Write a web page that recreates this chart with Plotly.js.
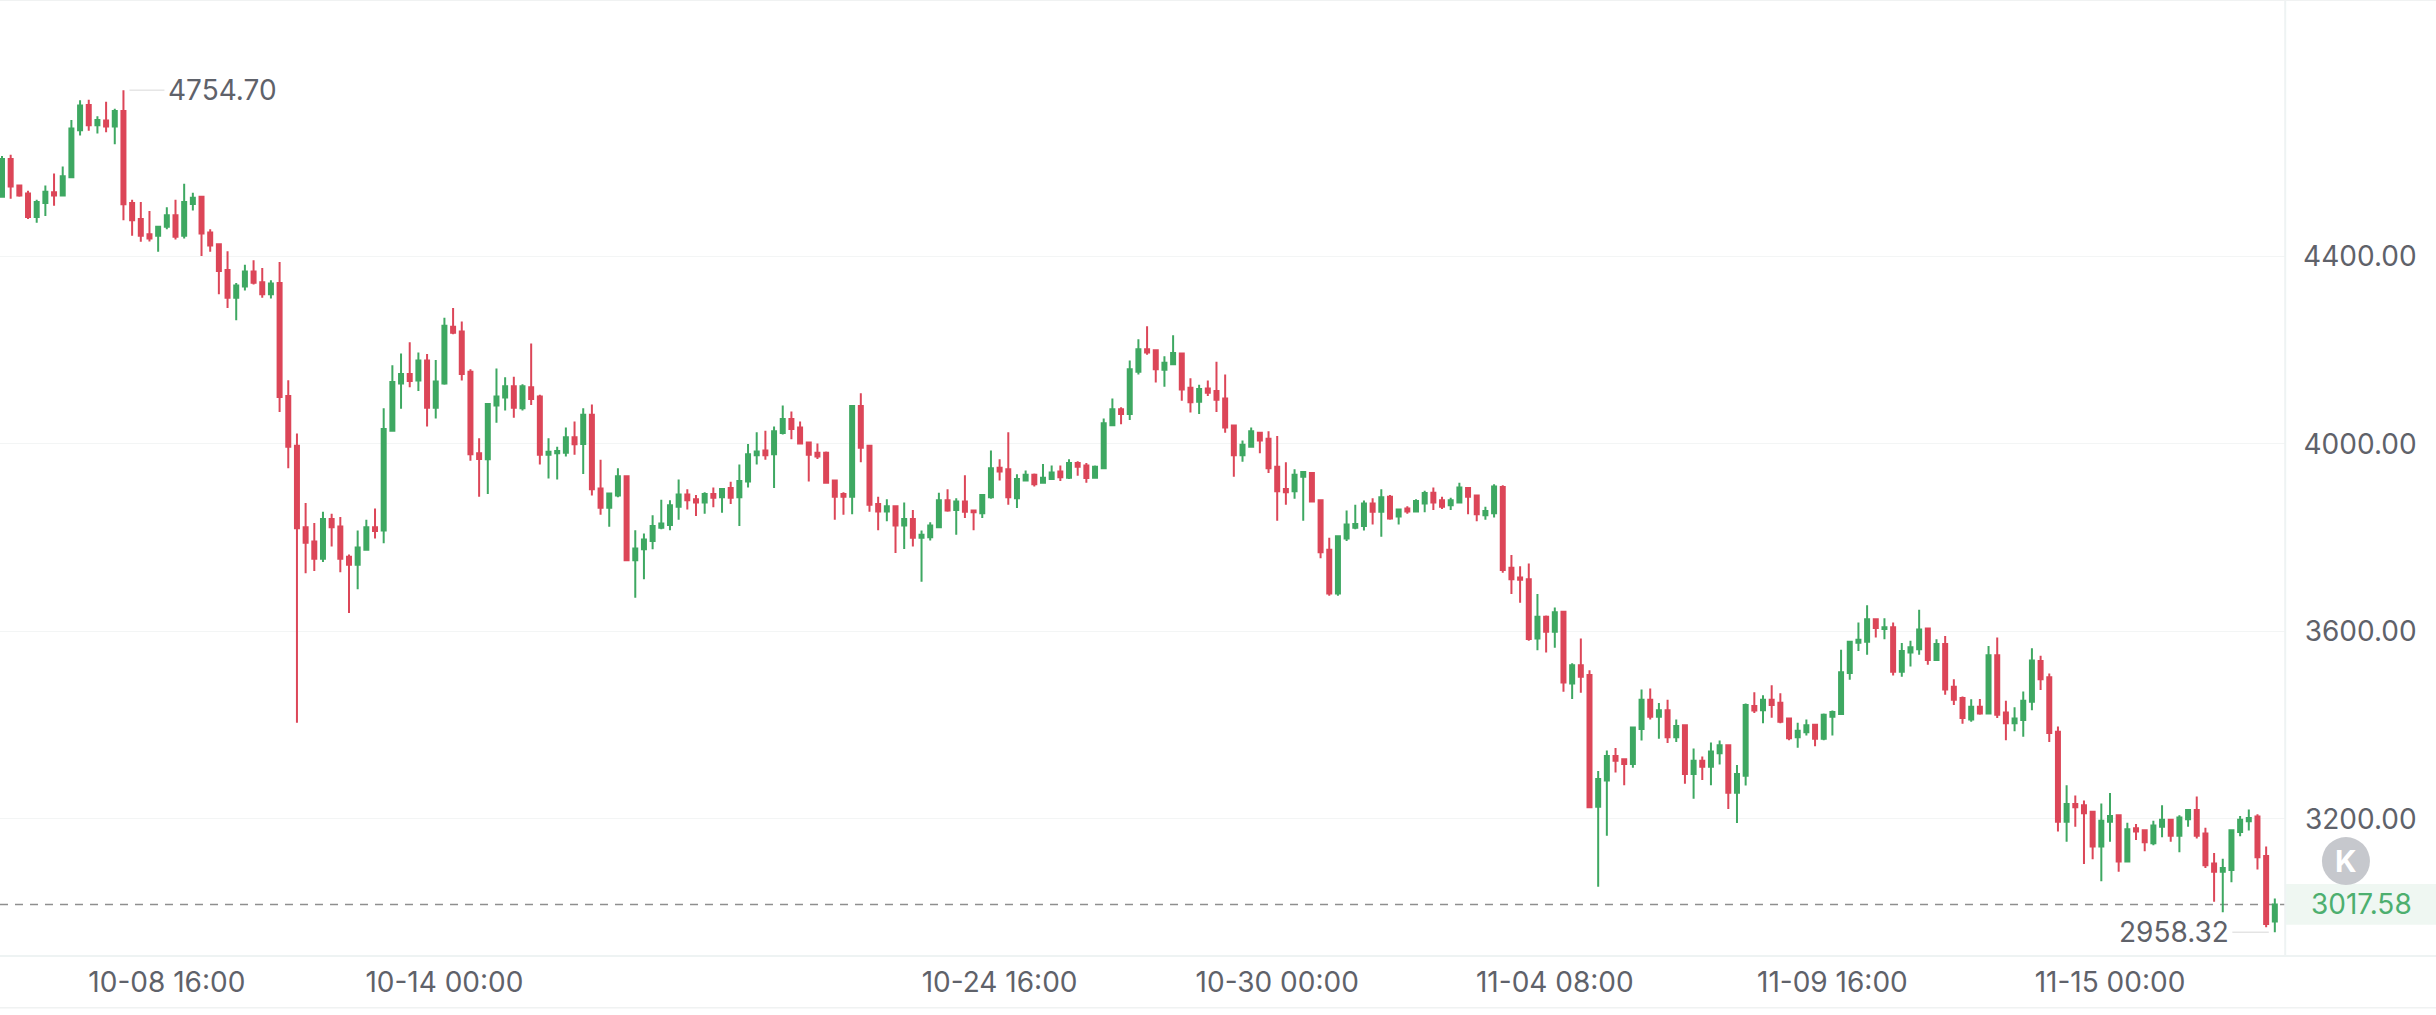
<!DOCTYPE html>
<html>
<head>
<meta charset="utf-8">
<script src="https://cdn.plot.ly/plotly-3.0.1.min.js"></script>
<style>html,body{margin:0;padding:0;background:#fff;overflow:hidden}#chart{width:2436px;height:1015px}</style>
</head>
<body>
<div id="chart"></div>
<script>
const openPrices = [4527,4608,4551,4534,4484,4514,4537,4530,4569,4669,4723,4680,4690,4677,4710,4514,4480,4447,4444,4463,4488,4444,4512,4527,4451,4426,4371,4312,4336,4368,4345,4319,4343,4102,3996,3822,3792,3755,3840,3824,3759,3742,3774,3822,
3815,4028,4129,4149,4135,4178,4077,4129,4250,4240,4154,3980,3967,4082,4099,4123,4076,4121,4101,3977,3980,3981,4014,4000,4062,3905,3864,3890,3931,3752,3775,3793,3821,3827,3866,3892,3882,3875,3893,3886,3906,3886,3920,3976,
3986,3978,4023,4053,4035,4003,3981,3981,3922,3893,3887,4081,3996,3872,3856,3867,3826,3840,3800,3801,3822,3880,3859,3877,3858,3852,3886,3949,3946,3884,3922,3934,3917,3925,3941,3928,3959,3954,3928,3948,4040,4074,4064,4154,4202,4200,
4158,4170,4193,4120,4090,4118,4113,4097,4039,3976,3994,4024,4011,3951,3904,3899,3930,3938,3880,3774,3681,3798,3821,3825,3873,3855,3887,3845,3862,3856,3873,3896,3880,3869,3875,3906,3890,3848,3852,3908,
3736,3715,3711,3585,3631,3599,3642,3489,3528,3507,3226,3282,3334,3327,3317,3392,3454,3418,3432,3374,3400,3296,3324,3311,3340,3357,3256,3292,3441,3432,3454,3448,3414,3374,3385,3401,3371,3418,3424,3511,3576,3578,3626,3605,3609,
3514,3555,3562,3606,3539,3573,3482,3458,3412,3439,3425,3549,3427,3404,3411,3450,3537,3502,3386,3194,3232,3229,3215,3141,3194,3208,3109,3180,3176,3148,3183,3198,3164,3199,3219,3169,3105,3087,3091,3172,3195,3205,3121,2981];
const highPrices = [4614,4617,4553,4540,4521,4551,4577,4592,4691,4733,4734,4699,4730,4715,4754.7,4521,4516,4497,4465,4505,4521,4555,4536,4529,4458,4427,4411,4343,4382,4392,4375,4349,4388,4136,4022,3874,3831,3855,3851,3844,3764,3815,3838,3862,
4076,4168,4193,4217,4195,4192,4179,4269,4290,4261,4159,4012,4086,4161,4142,4143,4127,4214,4105,4012,3994,4035,4048,4076,4084,3966,3896,3948,3933,3816,3809,3848,3881,3880,3924,3903,3891,3897,3907,3905,3919,3956,4000,4025,
4028,4037,4082,4069,4048,4004,4001,3984,3923,3897,4082,4108,3998,3887,3882,3868,3875,3859,3815,3833,3896,3903,3884,3933,3859,3892,3986,3967,4025,3935,3943,3937,3957,3954,3954,3967,3963,3959,3954,4054,4097,4078,4178,4223,4251,4200,
4187,4232,4195,4140,4126,4135,4175,4148,4040,4007,4035,4025,4027,4017,3961,3946,3941,3939,3882,3800,3804,3858,3870,3879,3884,3903,3891,3862,3867,3882,3900,3907,3887,3885,3917,3908,3892,3866,3914,3912,
3763,3739,3745,3680,3634,3651,3644,3532,3585,3517,3302,3346,3351,3328,3396,3476,3478,3447,3454,3412,3402,3350,3333,3363,3367,3358,3315,3446,3470,3464,3485,3468,3415,3405,3412,3402,3425,3431,3561,3579,3619,3656,3628,3628,3619,
3575,3580,3646,3608,3583,3590,3498,3461,3455,3456,3569,3587,3452,3438,3472,3564,3548,3510,3397,3272,3250,3239,3217,3233,3255,3209,3192,3189,3176,3196,3229,3199,3208,3220,3248,3181,3127,3115,3178,3206,3220,3210,3141,3030];
const lowPrices = [4526,4523,4527,4480,4472,4486,4508,4529,4568,4658,4668,4662,4665,4639,4477,4444,4431,4432,4410,4458,4436,4438,4498,4401,4410,4319,4290,4264,4327,4340,4312,4310,4068,3948,3405,3724,3729,3748,3781,3726,3639,3690,3772,3798,
3788,4027,4075,4121,4113,4037,4054,4126,4234,4135,3964,3887,3893,4045,4071,4056,4071,4083,3956,3926,3924,3973,3977,3936,3890,3849,3823,3886,3751,3672,3711,3775,3818,3816,3838,3860,3846,3851,3865,3853,3872,3825,3907,3956,
3966,3906,4020,4010,4000,3920,3968,3916,3838,3849,3850,3961,3855,3816,3835,3767,3776,3781,3706,3794,3821,3855,3806,3842,3816,3842,3883,3922,3870,3863,3921,3909,3916,3924,3921,3925,3932,3917,3926,3947,4039,4042,4051,4148,4190,4131,
4122,4169,4092,4067,4064,4102,4068,4024,3930,3962,3993,3980,3938,3836,3870,3883,3836,3875,3756,3676,3676,3793,3818,3815,3828,3802,3838,3828,3851,3855,3854,3859,3861,3859,3874,3850,3835,3838,3843,3725,
3680,3661,3580,3560,3555,3565,3471,3456,3469,3223,3055,3164,3299,3272,3309,3367,3412,3371,3362,3364,3275,3243,3283,3272,3316,3221,3191,3271,3426,3404,3416,3404,3368,3352,3378,3355,3368,3378,3422,3497,3558,3550,3587,3583,3506,
3503,3525,3550,3529,3538,3465,3443,3403,3407,3422,3424,3415,3368,3387,3375,3432,3475,3364,3173,3151,3183,3104,3114,3067,3151,3087,3108,3155,3131,3144,3161,3151,3129,3183,3158,3095,3023,3001,3065,3163,3175,3092,2969,2958.32];
const closePrices = [4608,4549,4530,4484,4516,4538,4530,4571,4673,4722,4680,4691,4677,4710,4511,4477,4444,4438,4463,4488,4442,4516,4525,4449,4423,4369,4312,4338,4368,4344,4319,4342,4100,3994,3820,3789,3755,3840,3822,3755,3742,3779,3822,3814,
4032,4132,4149,4134,4178,4077,4133,4252,4237,4149,3978,3968,4085,4101,4123,4077,4123,4096,3977,3983,3985,4014,3999,4062,3903,3864,3894,3931,3752,3777,3796,3825,3830,3869,3892,3880,3875,3893,3885,3904,3885,3921,3978,3984,
3976,4027,4053,4032,4001,3977,3973,3917,3887,3887,4081,3992,3870,3856,3867,3826,3840,3800,3806,3826,3880,3858,3877,3855,3854,3891,3948,3941,3886,3925,3934,3914,3928,3939,3929,3959,3951,3927,3951,4044,4074,4064,4159,4202,4195,4159,
4173,4194,4116,4089,4117,4109,4094,4035,3976,3998,4027,4007,3948,3899,3897,3934,3940,3877,3769,3681,3803,3828,3829,3873,3855,3886,3841,3860,3856,3878,3895,3875,3866,3880,3907,3887,3850,3857,3909,3731,
3711,3710,3584,3631,3599,3641,3491,3528,3503,3225,3285,3334,3324,3317,3395,3454,3418,3432,3374,3398,3296,3324,3311,3344,3357,3256,3296,3443,3431,3454,3443,3407,3372,3388,3400,3371,3422,3428,3513,3578,3582,3626,3607,3609,3514,
3558,3566,3604,3539,3573,3476,3454,3415,3439,3425,3549,3422,3404,3414,3452,3538,3498,3383,3194,3232,3225,3212,3141,3196,3206,3109,3178,3173,3150,3186,3198,3164,3203,3219,3164,3101,3087,3095,3176,3198,3202,3118,2976,3017.58];
const candleIndex = openPrices.map((_, i) => i);

const xTickPositions = [19, 51, 115, 147, 179, 211, 243, 275];
const xTickLabels = ['10-08 16:00', '10-14 00:00', '10-24 16:00', '10-30 00:00', '11-04 08:00', '11-09 16:00', '11-15 00:00', '11-20 08:00'];
const yTickValues = [3200, 3600, 4000, 4400];

const highestIndex = 14, highestPrice = 4754.70;
const lowestIndex = 262, lowestPrice = 2958.32;
const lastPrice = 3017.58;

const UP = '#3EA862', DOWN = '#DC4658', TEXT = '#5F626A', GRID = '#F3F5F5', EDGE = '#EEF3F3';
const FONT = 'Inter, "Noto Sans", sans-serif';
const FS = 28;
const xMin = -0.2305, xMax = 280.58, yMin = 2907.5, yMax = 4947, sepX = 263.2;

const trace = {
  type: 'candlestick',
  x: candleIndex, open: openPrices, high: highPrices, low: lowPrices, close: closePrices,
  increasing: {line: {color: UP, width: 2}, fillcolor: UP},
  decreasing: {line: {color: DOWN, width: 2}, fillcolor: DOWN},
  whiskerwidth: 0,
  hoverinfo: 'skip',
  showlegend: false
};

const layout = {
  width: 2436, height: 1015,
  margin: {l: 0, r: 0, t: 0, b: 59},
  paper_bgcolor: '#fff', plot_bgcolor: '#fff',
  boxgap: 0.54, boxgroupgap: 0,
  showlegend: false,
  font: {family: FONT, color: TEXT, size: FS},
  xaxis: {
    type: 'linear', range: [xMin, xMax], rangeslider: {visible: false},
    tickmode: 'array', tickvals: xTickPositions, ticktext: xTickLabels,
    ticklabeloverflow: 'allow', showgrid: false, zeroline: false, showline: false,
    ticks: 'outside', ticklen: 1, tickcolor: 'rgba(0,0,0,0)',
    tickfont: {family: FONT, color: TEXT, size: FS}
  },
  yaxis: {
    side: 'right', range: [yMin, yMax],
    tickmode: 'array', tickvals: yTickValues, ticktext: yTickValues.map(v => v.toFixed(2)),
    ticklabelposition: 'inside', ticks: 'inside', ticklen: 22, tickcolor: 'rgba(0,0,0,0)',
    showgrid: true, gridcolor: GRID, gridwidth: 1, zeroline: false, showline: false,
    tickfont: {family: FONT, color: TEXT, size: FS}
  },
  shapes: [
    {type: 'rect', layer: 'between', xref: 'x', yref: 'y', x0: sepX, x1: xMax, y0: yMin, y1: yMax, fillcolor: '#fff', line: {width: 0}},
    {type: 'rect', layer: 'between', xref: 'x', yref: 'y', x0: sepX, x1: xMax, y0: 2974, y1: 3061, fillcolor: '#EFF7F2', line: {width: 0}},
    {type: 'line', layer: 'between', xref: 'x', yref: 'y', x0: xMin, x1: sepX, y0: lastPrice, y1: lastPrice, line: {color: '#8F8F8F', width: 1.5, dash: '8px,7px'}},
    {type: 'line', layer: 'above', xref: 'x', yref: 'y', x0: sepX, x1: sepX, y0: yMin, y1: yMax, line: {color: EDGE, width: 2}},
    {type: 'line', layer: 'above', xref: 'paper', yref: 'paper', x0: 0, x1: 1, y0: 0, y1: 0, line: {color: EDGE, width: 2}},
    {type: 'line', layer: 'above', xref: 'paper', yref: 'paper', x0: 0, x1: 1, y0: 1, y1: 1, line: {color: '#F0F2F2', width: 2}},
    {type: 'line', layer: 'above', xref: 'paper', yref: 'paper', x0: 0, x1: 1, y0: -0.0541, y1: -0.0541, line: {color: '#F0F2F2', width: 1.5}},
    {type: 'circle', layer: 'above', xref: 'x', yref: 'y', xsizemode: 'pixel', ysizemode: 'pixel', xanchor: 270.2, yanchor: 3110, x0: -24, x1: 24, y0: -24, y1: 24, fillcolor: '#C6C8CD', line: {width: 0}}
  ],
  annotations: [
    {x: highestIndex, y: highestPrice, xref: 'x', yref: 'y', text: highestPrice.toFixed(2), showarrow: true, arrowhead: 0, arrowwidth: 1, arrowcolor: '#D8D8D8', ax: 99, ay: 0, standoff: 6, borderpad: 3, font: {family: FONT, color: TEXT, size: FS}},
    {x: lowestIndex, y: lowestPrice, xref: 'x', yref: 'y', text: lowestPrice.toFixed(2), showarrow: true, arrowhead: 0, arrowwidth: 1, arrowcolor: '#D8D8D8', ax: -101, ay: 0, standoff: 6, borderpad: 3, font: {family: FONT, color: TEXT, size: FS}},
    {x: 272, y: lastPrice, xref: 'x', yref: 'y', xanchor: 'center', yanchor: 'middle', text: lastPrice.toFixed(2), showarrow: false, font: {family: FONT, color: '#4DAF6F', size: FS}},
    {x: 270.2, y: 3110, xref: 'x', yref: 'y', xanchor: 'center', yanchor: 'middle', text: '<b>K</b>', showarrow: false, font: {family: FONT, color: '#fff', size: 30}}
  ]
};

Plotly.newPlot('chart', [trace], layout, {displayModeBar: false, staticPlot: true});
</script>
</body>
</html>
